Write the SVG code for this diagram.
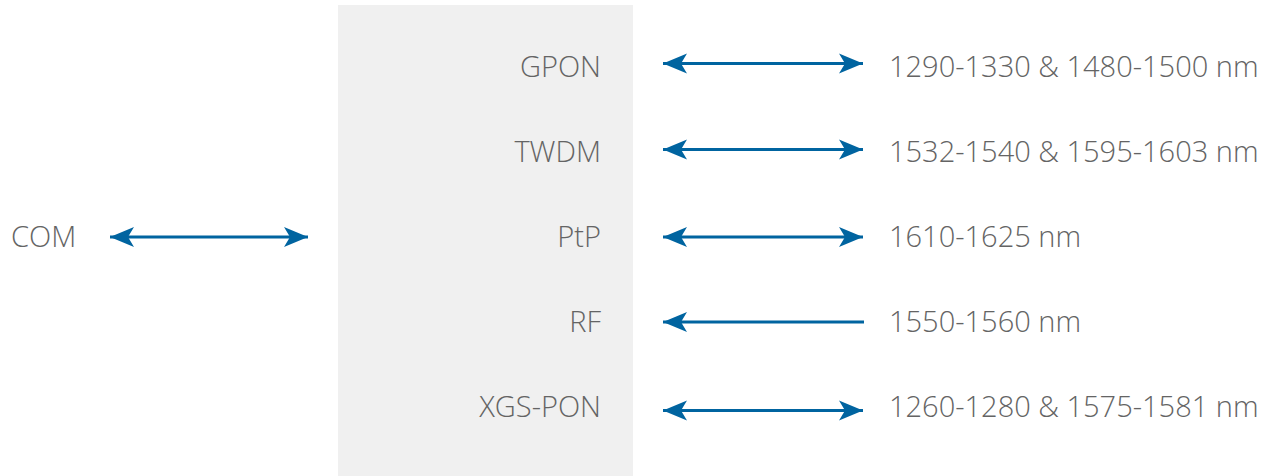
<svg xmlns="http://www.w3.org/2000/svg" width="1272" height="476" viewBox="0 0 1272 476">
<defs>
<style>
.t{font-family:"Open Sans","Noto Sans","Liberation Sans",sans-serif;font-size:29px;font-weight:300;fill:#646464}
.r{text-anchor:end}
.c{stroke:#0064a0;stroke-width:3;fill:none}
</style>
<marker id="ah" viewBox="-25 -11 26 22" refX="0" refY="0" markerWidth="26" markerHeight="22" markerUnits="userSpaceOnUse" orient="auto-start-reverse">
<path d="M0,0 L-24,-10 L-18,0 L-24,10 Z" fill="#0064a0"/>
</marker>
</defs>
<rect id="box" x="338" y="5" width="295" height="471" fill="#f0f0f0"/>
<g id="com"><text class="t" x="11" y="247">COM</text></g>
<g id="gpon"><text class="t r" x="601" y="77">GPON</text></g>
<g id="twdm"><text class="t r" x="601" y="162">TWDM</text></g>
<g id="ptp"><text class="t r" x="601" y="247">PtP</text></g>
<g id="rf"><text class="t r" x="601" y="332">RF</text></g>
<g id="xgspon"><text class="t r" x="601" y="417">XGS-PON</text></g>
<g id="w1"><text class="t" x="889" y="77">1290-1330 &amp; 1480-1500 nm</text></g>
<g id="w2"><text class="t" x="889" y="162">1532-1540 &amp; 1595-1603 nm</text></g>
<g id="w3"><text class="t" x="889" y="247">1610-1625 nm</text></g>
<g id="w4"><text class="t" x="889" y="332">1550-1560 nm</text></g>
<g id="w5"><text class="t" x="889" y="417">1260-1280 &amp; 1575-1581 nm</text></g>
<g id="connectors">
<line class="c" x1="110" y1="237" x2="308" y2="237" marker-start="url(#ah)" marker-end="url(#ah)"/>
<line class="c" x1="663" y1="63.5" x2="863" y2="63.5" marker-start="url(#ah)" marker-end="url(#ah)"/>
<line class="c" x1="663" y1="149.5" x2="863" y2="149.5" marker-start="url(#ah)" marker-end="url(#ah)"/>
<line class="c" x1="663" y1="237" x2="863" y2="237" marker-start="url(#ah)" marker-end="url(#ah)"/>
<line class="c" x1="663" y1="322" x2="864" y2="322" marker-start="url(#ah)"/>
<line class="c" x1="663" y1="410.5" x2="863" y2="410.5" marker-start="url(#ah)" marker-end="url(#ah)"/>
</g>
</svg>
